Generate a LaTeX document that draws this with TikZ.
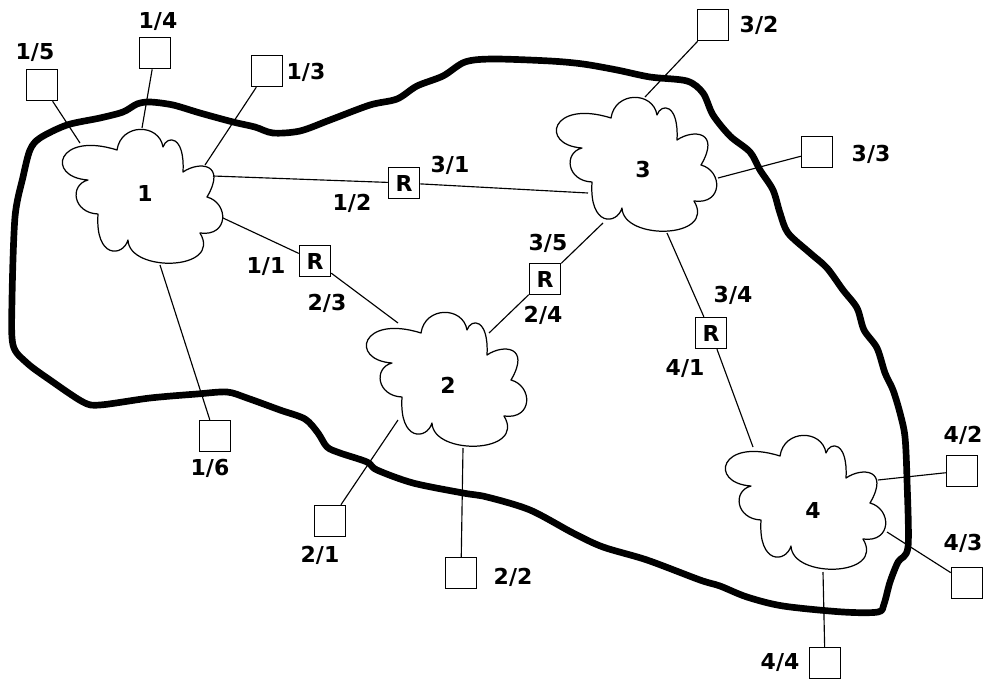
\documentclass[tikz,border=0pt]{standalone}
\usepackage{fontspec}
\setmainfont{DejaVu Sans}
\begin{document}
\begin{tikzpicture}[x=0.02cm,y=-0.02cm,
  lbl/.style={font=\fontsize{12.5}{14}\selectfont\bfseries, inner sep=0pt},
  host/.style={draw, line width=0.85pt, minimum size=0.62cm, inner sep=0pt},
  router/.style={host, font=\fontsize{12.5}{14}\selectfont\bfseries},
  link/.style={line width=0.65pt},
  cloudline/.style={line width=0.7pt, line join=round},
  areaborder/.style={line width=3.8pt, line join=round},
  netcloud/.pic={
    \draw[cloudline] (-26,-47) .. controls (-22,-74) and (16,-74) .. (20,-50)
      .. controls (24,-62) and (42,-62) .. (40,-25)
      .. controls (56,-36) and (84,-34) .. (64,0)
      .. controls (86,6) and (86,40) .. (57,36)
      .. controls (80,74) and (-14,76) .. (-15,43)
      .. controls (-20,60) and (-48,62) .. (-45,17)
      .. controls (-70,16) and (-74,-12) .. (-55,-17)
      .. controls (-98,-20) and (-86,-66) .. (-26,-47) -- cycle;
  }]
\useasboundingbox (0,0) rectangle (987,679);

% administrative domain boundary
\draw[areaborder] plot[smooth cycle, tension=0.5] coordinates {
  (30,150) (40,138) (67,125) (100,118) (123,112) (137,104) (150,102) (173,105)
  (200,113) (233,122) (255,127) (273,133) (300,131) (330,120) (370,105) (397,99)
  (417,86) (443,76) (465,62) (493,59) (550,61) (583,64) (617,70) (650,77) (687,81)
  (703,93) (713,115) (730,136) (750,152) (760,170) (773,190) (780,213) (788,233)
  (810,253) (827,268) (843,290) (857,308) (864,330) (877,348) (885,373) (893,390)
  (900,413) (905,437) (907,480) (908,547) (898,562) (890,582) (884,604) (878,612)
  (843,612) (783,606) (747,597) (720,586) (700,580) (647,560) (603,547) (573,533)
  (530,510) (487,497) (463,493) (413,483) (377,470) (367,462) (340,453) (327,447)
  (318,433) (305,419) (280,410) (247,398) (227,392) (197,394) (150,398) (100,405)
  (83,402) (50,380) (27,363) (13,345) (12,300) (15,217) (23,177)};

% clouds
\pic at (143,197) {netcloud};
\pic at (447,380) {netcloud};
\pic at (637,165) {netcloud};
\pic at (806,503) {netcloud};
\node[lbl] (n1) at (145,193) {1};
\node[lbl] (n2) at (448,385) {2};
\node[lbl] (n3) at (643,170) {3};
\node[lbl] (n4) at (813,510) {4};

% attachment points on the clouds
\coordinate (a15) at (80,143);
\coordinate (a14) at (142,128);
\coordinate (a13) at (205,165);
\coordinate (a12) at (213,176);
\coordinate (a11) at (223,218);
\coordinate (a16) at (160,265);
\coordinate (a23) at (398,323);
\coordinate (a24) at (489,333);
\coordinate (a21) at (398,420);
\coordinate (a22) at (463,448);
\coordinate (a31) at (588,193);
\coordinate (a35) at (603,223);
\coordinate (a34) at (667,233);
\coordinate (a32) at (645,97);
\coordinate (a33) at (718,178);
\coordinate (a41) at (753,447);
\coordinate (a42) at (878,480);
\coordinate (a43) at (887,532);
\coordinate (a44) at (823,572);

% end stations
\node[host] (s15) at (42,85) {};
\node[host] (s14) at (155,53) {};
\node[host] (s13) at (267,71) {};
\node[host] (s16) at (215,436) {};
\node[host] (s21) at (330,521) {};
\node[host] (s22) at (461,573) {};
\node[host] (s32) at (713,25) {};
\node[host] (s33) at (817,152) {};
\node[host] (s42) at (962,471) {};
\node[host] (s43) at (967,583) {};
\node[host] (s44) at (825,663) {};

% routers
\node[router] (r12) at (404,183) {R};
\node[router] (r11) at (315,261) {R};
\node[router] (r24) at (545,279) {R};
\node[router] (r34) at (711,333) {R};

% links
\draw[link] (s15) -- (a15);
\draw[link] (s14) -- (a14);
\draw[link] (s13) -- (a13);
\draw[link] (s16) -- (a16);
\draw[link] (a12) -- (r12) -- (a31);
\draw[link] (a11) -- (r11) -- (a23);
\draw[link] (a35) -- (r24) -- (a24);
\draw[link] (a34) -- (r34) -- (a41);
\draw[link] (s21) -- (a21);
\draw[link] (s22) -- (a22);
\draw[link] (s32) -- (a32);
\draw[link] (s33) -- (a33);
\draw[link] (s42) -- (a42);
\draw[link] (s43) -- (a43);
\draw[link] (s44) -- (a44);

% port labels
\node[lbl] (l15) at (35,53) {1/5};
\node[lbl] (l14) at (158,22) {1/4};
\node[lbl] (l13) at (306,72) {1/3};
\node[lbl] (l16) at (210,468) {1/6};
\node[lbl] (l12) at (352,203) {1/2};
\node[lbl] (l31) at (450,165) {3/1};
\node[lbl] (l11) at (266,267) {1/1};
\node[lbl] (l23) at (327,303) {2/3};
\node[lbl] (l35) at (548,243) {3/5};
\node[lbl] (l24) at (543,315) {2/4};
\node[lbl] (l34) at (733,295) {3/4};
\node[lbl] (l41) at (685,369) {4/1};
\node[lbl] (l21) at (320,555) {2/1};
\node[lbl] (l22) at (513,577) {2/2};
\node[lbl] (l32) at (759,25) {3/2};
\node[lbl] (l33) at (871,154) {3/3};
\node[lbl] (l42) at (963,435) {4/2};
\node[lbl] (l43) at (963,543) {4/3};
\node[lbl] (l44) at (780,663) {4/4};
\end{tikzpicture}
\end{document}
